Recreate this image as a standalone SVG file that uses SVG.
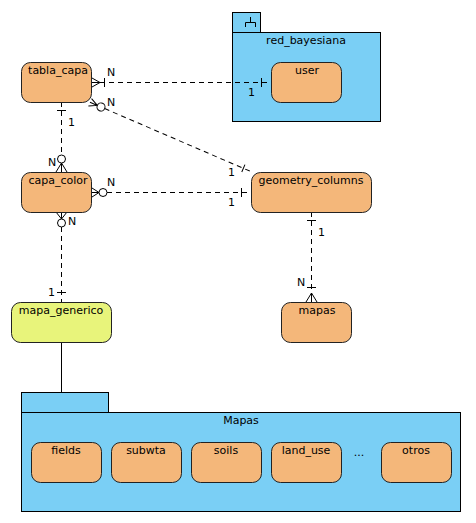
<svg xmlns="http://www.w3.org/2000/svg" width="476" height="523" viewBox="0 0 476 523">
<style>
text{font-family:"DejaVu Sans",Verdana,sans-serif;font-size:11px;fill:#000}
.t{text-anchor:middle}
.n{fill:#f4b77a;stroke:#222;stroke-width:1}
.g{fill:#e8f47b;stroke:#222;stroke-width:1}
.p{fill:#7acff5;stroke:#000;stroke-width:1}
.d{fill:none;stroke:#000;stroke-width:1;stroke-dasharray:5,4}
.s{fill:none;stroke:#000;stroke-width:1}
.c{fill:#fff;stroke:#000;stroke-width:1}
</style>
<rect width="476" height="523" fill="#fff"/>
<g id="red_bayesiana">
<rect class="p" x="232.5" y="12.5" width="28" height="20"/>
<rect class="p" x="232.5" y="32.5" width="148" height="89"/>
<path class="s" d="M250.5,17 V22.5 M245.5,27 V22.5 H255.5 V27"/>
<text class="t" x="306" y="44">red_bayesiana</text>
</g>
<g id="Mapas">
<rect class="p" x="21.5" y="392.5" width="87" height="20"/>
<rect class="p" x="21.5" y="412.5" width="439" height="99"/>
<text class="t" x="241" y="424">Mapas</text>
</g>
<g id="connectors">
<!-- tabla_capa - user -->
<path class="d" d="M100,82.5 H271"/>
<path class="s" d="M92,78 L100,82.5 L92,87 M92,82.5 H100 M104.5,78 V87 M261.5,78 V87"/>
<text x="107" y="76">N</text>
<text x="248" y="96">1</text>
<!-- tabla_capa - geometry_columns -->
<g transform="rotate(23.3 101 107)">
<path class="d" d="M105,107 H267"/>
<path class="s" d="M89,103 L97,107 L89,111 M89,107 H97 M256,103 V111"/>
<circle class="c" cx="101" cy="107" r="4"/>
</g>
<text x="107" y="106">N</text>
<text x="228" y="176">1</text>
<!-- tabla_capa - capa_color -->
<path class="d" d="M61.5,102 V155"/>
<path class="s" d="M57,110.5 H66 M61.5,163 L56,172 M61.5,163 V172 M61.5,163 L67,172"/>
<circle class="c" cx="61.5" cy="159" r="4"/>
<text x="68" y="126">1</text>
<text x="48" y="166">N</text>
<!-- capa_color - geometry_columns -->
<path class="d" d="M107,192.5 H251"/>
<path class="s" d="M92,188 L99,192.5 L92,197 M92,192.5 H99 M241.5,188 V197"/>
<circle class="c" cx="103" cy="192.5" r="4"/>
<text x="107" y="186">N</text>
<text x="228" y="206">1</text>
<!-- capa_color - mapa_generico -->
<path class="d" d="M61.5,227 V302"/>
<path class="s" d="M56,212 L61.5,219 L67,212 M61.5,212 V219 M57,292.5 H66"/>
<circle class="c" cx="61.5" cy="223" r="4"/>
<text x="68" y="225">N</text>
<text x="48" y="296">1</text>
<!-- geometry_columns - mapas -->
<path class="d" d="M311.5,212 V302"/>
<path class="s" d="M307,220.5 H316 M307,287.5 H316 M311.5,293 L306,302 M311.5,293 V302 M311.5,293 L317,302"/>
<text x="318" y="236">1</text>
<text x="297" y="286">N</text>
<!-- mapa_generico - Mapas -->
<path class="s" d="M61.5,342 V392"/>
</g>
<g id="tabla_capa"><rect class="n" x="21.5" y="62.5" width="70" height="40" rx="9"/><text class="t" x="58" y="74">tabla_capa</text></g>
<g id="user"><rect class="n" x="271.5" y="62.5" width="70" height="40" rx="9"/><text class="t" x="307" y="74">user</text></g>
<g id="capa_color"><rect class="n" x="21.5" y="172.5" width="70" height="40" rx="9"/><text class="t" x="58" y="184">capa_color</text></g>
<g id="geometry_columns"><rect class="n" x="251.5" y="172.5" width="120" height="40" rx="9"/><text class="t" x="311" y="184">geometry_columns</text></g>
<g id="mapas"><rect class="n" x="281.5" y="302.5" width="70" height="40" rx="9"/><text class="t" x="317" y="314">mapas</text></g>
<g id="mapa_generico"><rect class="g" x="11.5" y="302.5" width="100" height="40" rx="9"/><text class="t" x="61" y="314">mapa_generico</text></g>
<g id="fields"><rect class="n" x="31.5" y="442.5" width="70" height="40" rx="9"/><text class="t" x="66" y="454">fields</text></g>
<g id="subwta"><rect class="n" x="111.5" y="442.5" width="70" height="40" rx="9"/><text class="t" x="146" y="454">subwta</text></g>
<g id="soils"><rect class="n" x="191.5" y="442.5" width="70" height="40" rx="9"/><text class="t" x="226" y="454">soils</text></g>
<g id="land_use"><rect class="n" x="271.5" y="442.5" width="70" height="40" rx="9"/><text class="t" x="306" y="454">land_use</text></g>
<g id="dots"><text class="t" x="359" y="456">...</text></g>
<g id="otros"><rect class="n" x="381.5" y="442.5" width="70" height="40" rx="9"/><text class="t" x="416" y="454">otros</text></g>
</svg>
